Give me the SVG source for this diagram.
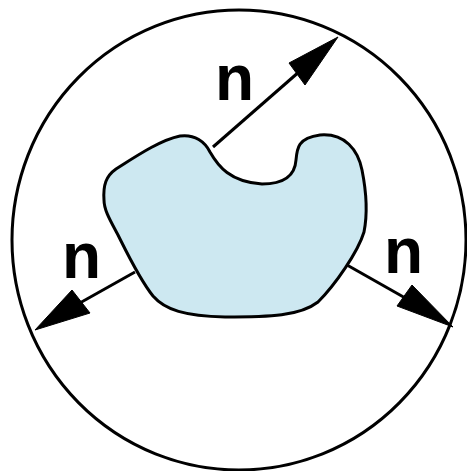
<svg xmlns="http://www.w3.org/2000/svg" width="467" height="471" viewBox="0 0 467 471">
<style>
.ln{stroke:#000;stroke-width:3;fill:none}
.hd{fill:#000;stroke:#000;stroke-width:1;stroke-linejoin:round}
.lbl{font-family:"Liberation Sans",Arial,sans-serif;font-weight:bold;font-size:64px;fill:#000}
</style>
<rect width="467" height="471" fill="#fff"/>
<g id="sphere"><ellipse cx="239" cy="240" rx="227" ry="230" class="ln"/></g>
<g id="body"><path d="M 104 200 C 103 185,106 176,116 169 C 135 157,160 140,180 136 C 195 134,205 142,210 152 C 218 166,230 182,262 184 C 285 184,295 175,296 160 C 297 148,298 138,320 135 C 345 133,358 150,362 170 C 366 190,368 212,364 232 C 358 252,335 285,318 302 C 300 316,270 317,225 317 C 185 316,165 310,153 296 C 140 280,128 255,118 235 C 110 220,104 210,104 200 Z" fill="#cde8f1" stroke="#000" stroke-width="3"/></g>
<g id="connectors">
<line x1="213" y1="147" x2="300" y2="71" class="ln"/>
<polygon points="338,37 289,63 305,85" class="hd"/>
<line x1="135" y1="272" x2="78" y2="304" class="ln"/>
<polygon points="35,330 72,290 90,313" class="hd"/>
<line x1="347" y1="265" x2="407" y2="299" class="ln"/>
<polygon points="453,327 397,306 412,285" class="hd"/>
</g>
<g id="label-top"><text x="215" y="100" class="lbl">n</text></g>
<g id="label-left"><text x="62" y="278" class="lbl">n</text></g>
<g id="label-right"><text x="384" y="273" class="lbl">n</text></g>
</svg>
